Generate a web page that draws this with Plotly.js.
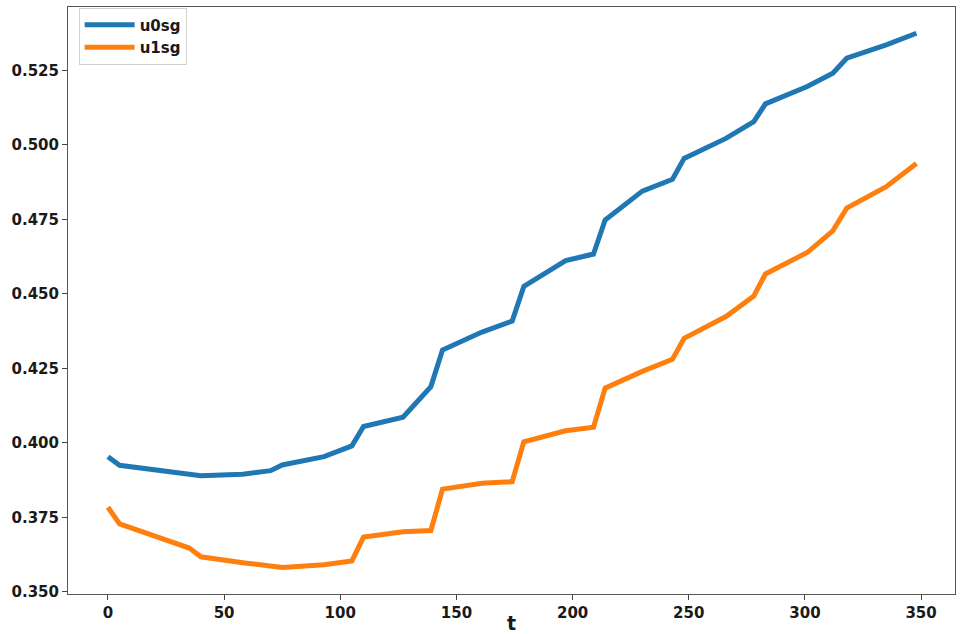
<!DOCTYPE html>
<html>
<head>
<meta charset="utf-8">
<script src="https://cdn.plot.ly/plotly-3.0.1.min.js"></script>
<style>
  html, body { margin: 0; padding: 0; background: white; }
  #chart { width: 960px; height: 634px; }
</style>
</head>
<body>
<div id="chart"></div>
<script>
// time steps where the lines bend
var t = [0, 5, 35, 40, 58, 70, 75, 93, 105, 110, 127, 139, 144, 161, 174,
  179, 197, 209, 214, 230, 243, 248, 266, 278, 283, 301, 312, 318, 335, 348];

var u0sg = [0.3954, 0.3925, 0.3895, 0.3890, 0.3895, 0.3907, 0.3926, 0.3954, 0.3990, 0.4055,
  0.4086, 0.4189, 0.4312, 0.4372, 0.4409, 0.4525, 0.4612, 0.4634, 0.4748, 0.4845,
  0.4885, 0.4955, 0.5022, 0.5078, 0.5138, 0.5196, 0.5241, 0.5291, 0.5336, 0.5375];

var u1sg = [0.3784, 0.3728, 0.3647, 0.3618, 0.3598, 0.3584, 0.3582, 0.3591, 0.3604, 0.3684,
  0.3702, 0.3706, 0.3845, 0.3865, 0.3870, 0.4004, 0.4041, 0.4053, 0.4184, 0.4240,
  0.4281, 0.4351, 0.4424, 0.4493, 0.4567, 0.4639, 0.4712, 0.4788, 0.4860, 0.4938];

var xTicks = [0, 50, 100, 150, 200, 250, 300, 350];
var yTicks = [0.350, 0.375, 0.400, 0.425, 0.450, 0.475, 0.500, 0.525];

var data = [
  {
    x: t, y: u0sg, name: 'u0sg', type: 'scatter', mode: 'lines',
    line: { color: '#1f77b4', width: 5 }
  },
  {
    x: t, y: u1sg, name: 'u1sg', type: 'scatter', mode: 'lines',
    line: { color: '#ff7f0e', width: 5 }
  }
];

var fam = 'DejaVu Sans, Arial, sans-serif';
var tickFont = { family: fam, size: 15, color: '#1a1a1a', weight: 'bold' };

var layout = {
  width: 960,
  height: 634,
  margin: { l: 68, r: 5, t: 7, b: 40 },
  paper_bgcolor: 'white',
  plot_bgcolor: 'white',
  showlegend: true,
  legend: {
    x: 0.012, y: 0.999, xanchor: 'left', yanchor: 'top',
    bgcolor: 'rgba(255,255,255,0.8)',
    bordercolor: '#d0d0d0', borderwidth: 1,
    itemwidth: 50,
    font: { family: fam, size: 15, color: '#1a1a1a', weight: 'bold' },
    tracegroupgap: 0
  },
  xaxis: {
    range: [-17.2, 364.6],
    tickvals: xTicks,
    ticktext: xTicks.map(String),
    ticks: 'outside', ticklen: 5, tickcolor: '#444',
    showgrid: false, zeroline: false,
    showline: true, linecolor: '#555', linewidth: 1, mirror: true,
    tickfont: tickFont,
    title: { text: 't', standoff: 3, font: { family: fam, size: 19, color: '#1a1a1a', weight: 'bold' } }
  },
  yaxis: {
    range: [0.3493, 0.5463],
    tickvals: yTicks,
    ticktext: yTicks.map(function (v) { return v.toFixed(3); }),
    ticks: 'outside', ticklen: 5, tickcolor: '#444',
    showgrid: false, zeroline: false,
    showline: true, linecolor: '#555', linewidth: 1, mirror: true,
    tickfont: tickFont
  }
};

Plotly.newPlot('chart', data, layout, { displayModeBar: false, staticPlot: true });
</script>
</body>
</html>
